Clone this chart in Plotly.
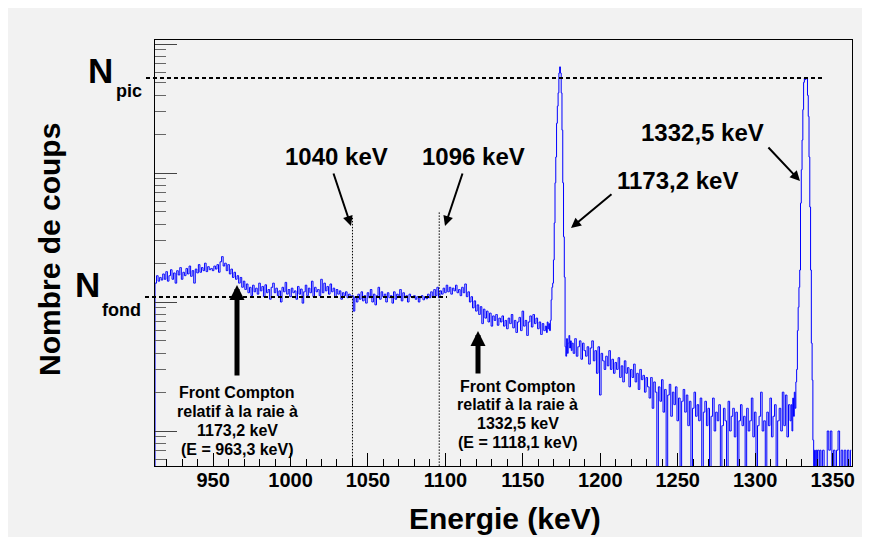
import numpy as np
import plotly.graph_objects as go

# ---------------- spectrum data (arbitrary count units) ----------------
# segment A : 912 .. 1164 keV, 1 keV bins
a_start, a_step = 912.0, 1.0
counts_a = [
    3, 140, 160, 145, 155, 148, 165, 150, 172, 145,
    160, 178, 150, 168, 140, 175, 162, 185, 150, 170,
    160, 182, 165, 190, 158, 175, 140, 180, 168, 195,
    170, 185, 175, 200, 172, 188, 178, 182, 175, 190,
    180, 195, 170, 205, 225, 190, 200, 175, 195, 165,
    180, 155, 170, 150, 160, 140, 155, 130, 145, 125,
    138, 118, 130, 112, 135, 120, 128, 115, 140, 122,
    132, 110, 136, 118, 125, 105, 130, 140, 118, 128,
    112, 122, 100, 130, 120, 142, 115, 125, 110, 128,
    118, 122, 105, 132, 115, 126, 98, 120, 135, 112,
    128, 118, 145, 110, 130, 120, 125, 112, 150, 118,
    140, 122, 132, 115, 138, 120, 128, 110, 125, 115,
    122, 105, 118, 112, 120, 108, 115, 110, 112, 85,
    110, 100, 115, 105, 120, 102, 112, 98, 118, 108,
    125, 100, 115, 95, 112, 130, 105, 120, 110, 115,
    100, 118, 108, 112, 98, 120, 105, 115, 110, 125,
    102, 118, 108, 112, 100, 115, 110, 108, 112, 105,
    110, 100, 108, 112, 104, 110, 106, 115, 108, 120,
    110, 125, 112, 130, 108, 122, 115, 128, 118, 135,
    120, 130, 115, 128, 122, 135, 118, 125, 112, 130,
    118, 138, 110, 120, 100, 110, 90, 102, 85, 95,
    80, 92, 68, 88, 75, 85, 70, 82, 65, 78,
    72, 80, 66, 75, 70, 78, 65, 72, 62, 75,
    68, 80, 63, 72, 58, 70, 76, 60, 85, 65,
    72, 55, 70, 78, 64, 80, 68, 75, 62, 70,
    56, 68, 60,
]
# segment B : 1165 .. 1182 keV, 0.5 keV bins (1173,2 keV peak)
b_start, b_step = 1165.0, 0.5
counts_b = [
    65, 58, 70, 62, 68, 60, 72, 104, 130, 140,
    212, 410, 840, 1330, 2430, 3300, 4180, 5950, 6650, 5950,
    4180, 2150, 840, 320, 156, 45, 38, 52, 40, 48,
    55, 44, 50, 42, 48,
]
# segment C : 1183 .. 1322 keV, 1 keV bins
c_start, c_step = 1183.0, 1.0
counts_c = [
    40, 52, 38, 45, 50, 36, 48, 42, 38, 45,
    33, 44, 50, 35, 42, 28, 45, 19, 40, 35,
    30, 38, 32, 42, 30, 36, 28, 34, 30, 37,
    26, 32, 24, 35, 28, 31, 22, 30, 26, 33,
    24, 28, 21, 30, 25, 27, 20, 26, 22, 18,
    26, 15, 24, 20, 3, 22, 17, 25, 14, 21,
    3, 19, 23, 13, 20, 16, 22, 12, 18, 3,
    17, 21, 14, 19, 11, 17, 3, 15, 20, 13,
    16, 12, 18, 3, 14, 17, 11, 15, 3, 13,
    18, 10, 14, 12, 16, 3, 11, 15, 12, 3,
    17, 10, 13, 15, 9, 14, 3, 12, 16, 11,
    13, 3, 15, 10, 12, 18, 9, 14, 3, 11,
    13, 20, 10, 12, 3, 14, 11, 18, 9, 13,
    16, 3, 12, 15, 10, 20, 11, 19, 9, 16,
]
# segment D : 1323 .. 1342 keV, 0.5 keV bins (1332,5 keV peak)
d_start, d_step = 1323.0, 0.5
counts_d = [
    12, 16, 10, 18, 13, 20, 15, 24, 30, 60,
    91, 130, 177, 584, 1060, 1800, 3100, 5050, 5450, 5300,
    5450, 5450, 4000, 2750, 1330, 545, 177, 48, 24.8, 8.5,
    3, 7.1, 3, 7.1, 3, 7.1, 7.1, 3, 7.1,
]
# segment E : 1343 .. 1362 keV, 1 keV bins
e_start, e_step = 1343.0, 1.0
counts_e = [
    3, 7.1, 3, 3, 10, 7.1, 10, 3, 7.1, 3,
    7.1, 10, 3, 7.1, 3, 7.1, 3, 7.1, 3, 7.1,
]

segments = [
    (a_start, a_step, counts_a),
    (b_start, b_step, counts_b),
    (c_start, c_step, counts_c),
    (d_start, d_step, counts_d),
    (e_start, e_step, counts_e),
]
energy = np.concatenate([s + st * np.arange(len(v)) for s, st, v in segments])
counts = np.concatenate([np.array(v, dtype=float) for _, _, v in segments])

# marker lines
marker_energies = [1040, 1096]
marker_tops = [449, 495]
x_ticks = [950, 1000, 1050, 1100, 1150, 1200, 1250, 1300, 1350]
y_major = [10, 100, 1000, 10000]
y_minor = [m * d for d in [1, 10, 100, 1000] for m in range(2, 10)]

# ---------------- layout geometry (screen pixels) ----------------
W, H = 870, 537
OFF = 8                      # page body margin
L, R, T, B = 155, 852, 40, 466   # plot area in screen pixels


def px(x):
    return (x - L) / (R - L)


def py(y):
    return (B - y) / (B - T)


FONT = "Liberation Sans, Arial, Helvetica, sans-serif"

fig = go.Figure()
fig.add_trace(go.Scatter(
    x=energy, y=counts, mode="lines",
    line=dict(color="#0000ff", width=1, shape="hvh"),
    hoverinfo="skip",
))
for e, top in zip(marker_energies, marker_tops):
    fig.add_trace(go.Scatter(
        x=[e, e], y=[top, 1], mode="lines",
        line=dict(color="black", width=1, dash="1.5px,1.5px"),
        hoverinfo="skip",
    ))

shapes = [
    dict(type="line", xref="paper", yref="paper",
         x0=px(146), x1=px(822), y0=py(78), y1=py(78),
         line=dict(color="black", width=2, dash="4px,3px")),
    dict(type="line", xref="paper", yref="paper",
         x0=px(145), x1=px(447), y0=py(297), y1=py(297),
         line=dict(color="black", width=2, dash="4px,3px")),
]

ann = []


def text(t, x, y, size, xanchor="center", angle=0):
    ann.append(dict(text=t, x=px(x), y=py(y), xref="paper", yref="paper",
                    showarrow=False, xanchor=xanchor, yanchor="middle",
                    textangle=angle,
                    font=dict(family=FONT, size=size, color="black",
                              weight="bold")))


def arrow(tail, tip, width, size):
    ann.append(dict(text="", x=px(tip[0]), y=py(tip[1]),
                    xref="paper", yref="paper", showarrow=True,
                    ax=tail[0] - tip[0], ay=tail[1] - tip[1],
                    arrowhead=2, arrowwidth=width, arrowsize=size,
                    arrowcolor="black", standoff=0))


text("N", 100.5, 70, 35)
text("pic", 114, 91, 18, xanchor="left")
text("N", 87, 284, 35)
text("fond", 100, 310, 18, xanchor="left")
text("Nombre de coups", 49, 250, 30, angle=-90)
text("Energie (keV)", 505, 519, 30)

text("1040 keV", 336, 156, 24)
text("1096 keV", 473, 156, 24)
text("1173,2 keV", 677, 180, 24)
text("1332,5 keV", 702, 132, 24)

for i, line in enumerate(["Front Compton", "relatif à la raie à",
                          "1173,2 keV", "(E = 963,3 keV)"]):
    text(line, 237, 392 + 19.3 * i, 16)
for i, line in enumerate(["Front Compton", "relatif à la raie à",
                          "1332,5 keV", "(E = 1118,1 keV)"]):
    text(line, 518, 386 + 18.7 * i, 16)

arrow((333, 172), (351, 226), 2, 1.0)
arrow((463, 172), (445, 226), 2, 1.0)
arrow((613, 193), (571, 228), 2, 1.0)
arrow((767, 146), (800, 181), 2, 1.0)
arrow((237, 377), (237, 285), 5, 0.6)
arrow((478, 375), (478, 331), 5, 0.6)

fig.update_layout(
    width=W, height=H,
    margin=dict(l=L - OFF, r=W - (R - OFF), t=T - OFF, b=H - (B - OFF), pad=0),
    paper_bgcolor="#f2f2f2", plot_bgcolor="rgba(0,0,0,0)",
    showlegend=False,
    shapes=shapes, annotations=ann,
    xaxis=dict(
        range=[912.5, 1362.5], tickmode="array", tickvals=x_ticks,
        ticks="inside", ticklen=13, tickwidth=1, tickcolor="black",
        minor=dict(dtick=10, tick0=0, ticks="inside", ticklen=7,
                   tickwidth=1, tickcolor="black"),
        showline=True, linecolor="black", linewidth=1, mirror=True,
        showgrid=False, zeroline=False, ticklabelstandoff=-4,
        tickfont=dict(family=FONT, size=20, color="black", weight="bold"),
    ),
    yaxis=dict(
        type="log", range=[0.7287, 4.031], tickmode="array",
        tickvals=y_major, showticklabels=False,
        ticks="inside", ticklen=22, tickwidth=1, tickcolor="#444",
        minor=dict(tickmode="array", tickvals=y_minor, ticks="inside",
                   ticklen=11, tickwidth=1, tickcolor="#666"),
        showline=True, linecolor="black", linewidth=1, mirror=True,
        showgrid=False, zeroline=False,
    ),
)

fig.write_html("out.html")
